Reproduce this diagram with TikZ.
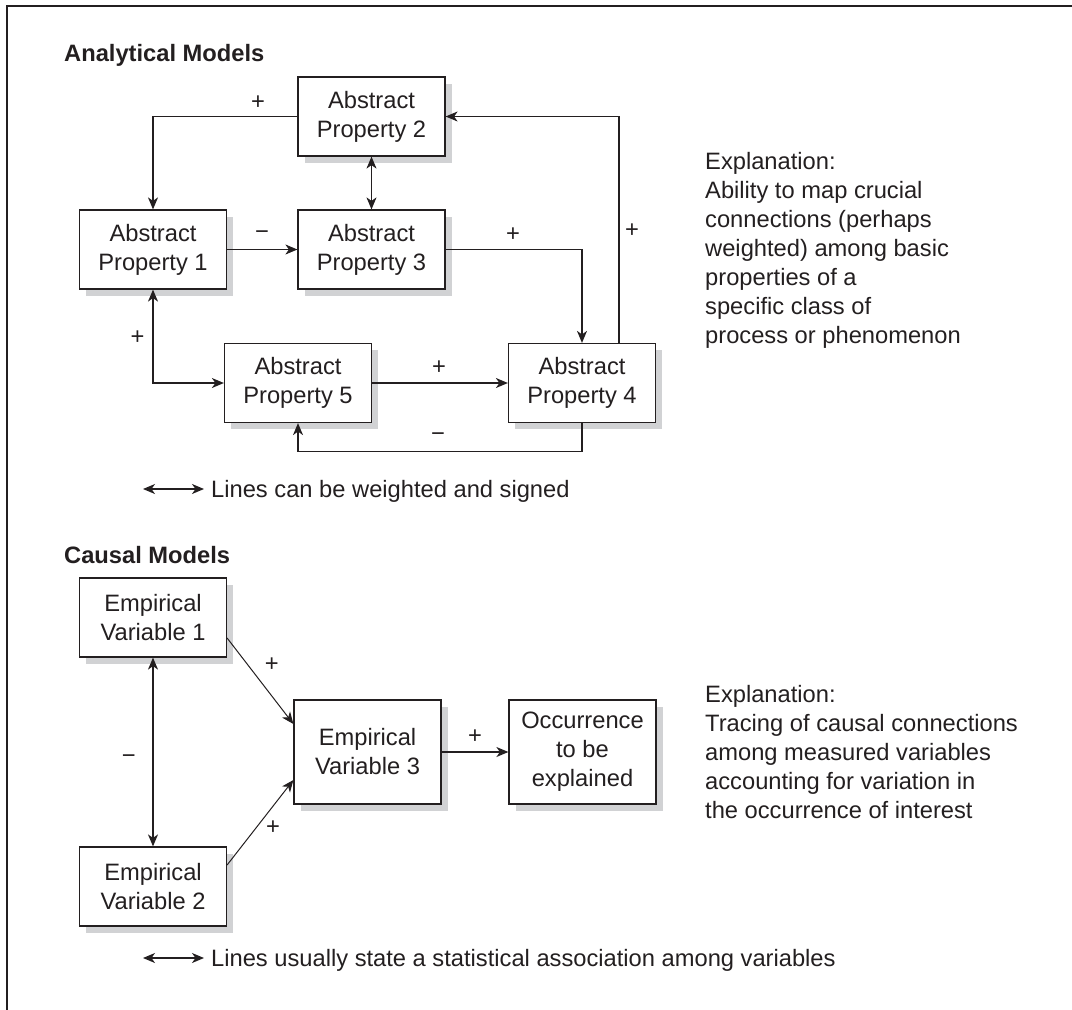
\documentclass[tikz,border=0pt]{standalone}
\usepackage{fontspec}
\setmainfont{Liberation Sans}
\usetikzlibrary{arrows.meta,shadows}

\definecolor{ink}{HTML}{231F20}
\definecolor{shade}{HTML}{D1D2D4}

\begin{document}
\begin{tikzpicture}[x=1pt,y=-1pt,
  >={Stealth[length=12pt,width=10pt,inset=3.5pt]},
  every node/.style={font=\fontsize{23.7}{29}\selectfont, text=ink},
  pbox/.style={draw=ink, line width=1.2pt, fill=white, inner sep=0pt,
    align=center, minimum width=147pt, minimum height=79pt,
    drop shadow={shadow xshift=6.5pt, shadow yshift=-6.5pt, fill=shade, opacity=1}},
  conn/.style={draw=ink, line width=1.2pt, ->},
  both/.style={draw=ink, line width=1.2pt, <->},
  sign/.style={inner sep=0pt},
  heading/.style={font=\fontsize{23.7}{29}\selectfont\bfseries, anchor=base west, inner sep=0pt},
  note/.style={anchor=north west, align=left, inner sep=0pt},
  legend/.style={anchor=base west, inner sep=0pt},
]
\useasboundingbox (0,0) rectangle (1072,1010);

% frame (open at right and bottom)
\draw[ink, line width=2pt] (6.5,1010) -- (6.5,5.5) -- (1072,5.5);

% ---------------- Analytical models ----------------
\node[heading] (t1) at (64,61) {Analytical Models};

\node[pbox] (ap2) at (371.5,116.5) {Abstract\\Property 2};
\node[pbox] (ap1) at (153,249.5)   {Abstract\\Property 1};
\node[pbox] (ap3) at (371.5,249.5) {Abstract\\Property 3};
\node[pbox] (ap5) at (298,383)     {Abstract\\Property 5};
\node[pbox] (ap4) at (582,383)     {Abstract\\Property 4};

\draw[conn] (ap2.west) -| (ap1.north);
\node[sign] (s1) at (258,103) {+};
\draw[both] (ap2.south) -- (ap3.north);
\draw[conn] (ap1.east) -- (ap3.west);
\node[sign] (s2) at (262,235) {−};
\draw[conn] (ap3.east) -| (ap4.north);
\node[sign] (s3) at (513,235) {+};
\draw[conn] ([xshift=37pt]ap4.north) |- (ap2.east);
\node[sign] (s4) at (632,231) {+};
\draw[both] (ap1.south) |- (ap5.west);
\node[sign] (s5) at (137.5,338) {+};
\draw[conn] (ap5.east) -- (ap4.west);
\node[sign] (s6) at (439,368) {+};
\draw[conn] (ap4.south) -- ++(0,28) -| (ap5.south);
\node[sign] (s7) at (438,437) {−};

\node[note] (ex1) at (705,152) {Explanation:\\Ability to map crucial\\connections (perhaps\\weighted) among basic\\properties of a\\specific class of\\process or phenomenon};

\coordinate (la) at (143,489);
\coordinate (lb) at (204,489);
\draw[both] (la) -- (lb);
\node[legend] (l1) at (211,497) {Lines can be weighted and signed};

% ---------------- Causal models ----------------
\node[heading] (t2) at (64,563) {Causal Models};

\node[pbox] (ev1) at (153,617.5) {Empirical\\Variable 1};
\node[pbox] (ev2) at (153,886.5) {Empirical\\Variable 2};
\node[pbox, minimum height=104pt] (ev3) at (367.5,752) {Empirical\\Variable 3};
\node[pbox, minimum height=104pt] (occ) at (582.5,752) {Occurrence\\to be\\explained};

\draw[both] (ev1.south) -- (ev2.north);
\node[sign] (s8) at (128.7,759) {−};
\draw[conn, line width=1pt] ([yshift=-20.5pt]ev1.east) -- ([yshift=28pt]ev3.west);
\node[sign] (s9) at (271.7,665) {+};
\draw[conn, line width=1pt] ([yshift=21.5pt]ev2.east) -- ([yshift=-28pt]ev3.west);
\node[sign] (s10) at (273,828) {+};
\draw[conn] (ev3.east) -- (occ.west);
\node[sign] (s11) at (475,737) {+};

\node[note] (ex2) at (705,685) {Explanation:\\Tracing of causal connections\\among measured variables\\accounting for variation in\\the occurrence of interest};

\coordinate (lc) at (143,958);
\coordinate (ld) at (204,958);
\draw[both] (lc) -- (ld);
\node[legend] (l2) at (211,966) {Lines usually state a statistical association among variables};
\end{tikzpicture}
\end{document}
